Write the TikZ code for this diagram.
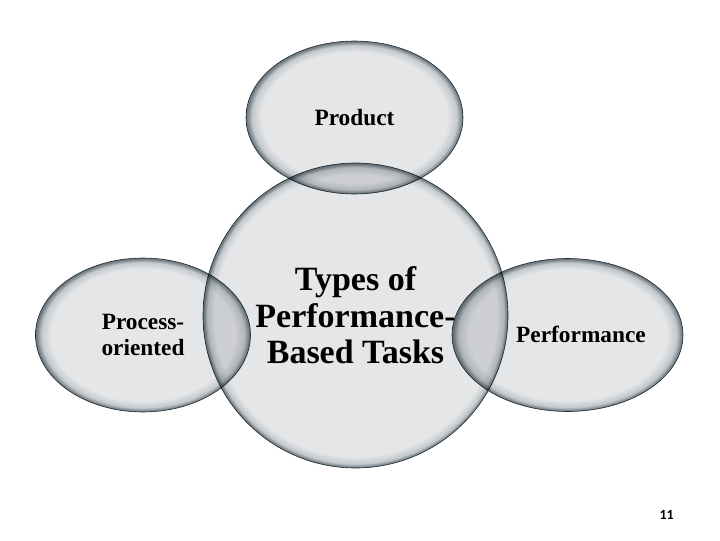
\documentclass[tikz,border=0pt]{standalone}
\usepackage{fontspec}
\setmainfont{Liberation Serif}
\newfontfamily\bubblefont{Liberation Serif}
\newfontfamily\slidefont{Carlito}
\usepackage{tikz}
\usetikzlibrary{shapes.geometric, positioning}
\definecolor{bubblefill}{RGB}{229,230,232}
\definecolor{bubblemid}{RGB}{196,201,204}
\definecolor{bubbleedge}{RGB}{110,122,128}
\definecolor{bubblerim}{RGB}{50,62,70}
% light inside, soft dark glow at the border
\pgfdeclareradialshading{rimsmall}{\pgfpoint{0bp}{0bp}}{color(0bp)=(bubblefill); color(21.4bp)=(bubblefill); color(23.6bp)=(bubblemid); color(24.8bp)=(bubbleedge); color(25bp)=(bubbleedge); color(50bp)=(bubbleedge)}
\pgfdeclareradialshading{rimbig}{\pgfpoint{0bp}{0bp}}{color(0bp)=(bubblefill); color(23.1bp)=(bubblefill); color(24.3bp)=(bubblemid); color(24.9bp)=(bubbleedge); color(25bp)=(bubbleedge); color(50bp)=(bubbleedge)}
\tikzset{
  bubble/.style={ellipse, draw=bubblerim, line width=0.45pt, shading=rimsmall, inner sep=0pt,
                 font=\bubblefont\bfseries\fontsize{17.5}{19.5}\selectfont, align=center},
  hub/.style={circle, draw=bubblerim, line width=0.45pt, shading=rimbig, inner sep=0pt,
              minimum size=228.75pt, font=\bubblefont\bfseries\fontsize{25.5}{27.5}\selectfont, align=center},
  bubbletext/.style={font=\bubblefont\bfseries\fontsize{17.5}{19.5}\selectfont, align=center, inner sep=0pt},
  pagenum/.style={font=\slidefont\bfseries\fontsize{10.5}{12}\selectfont, inner sep=0pt}
}

\begin{document}
\begin{tikzpicture}[x=0.75pt, y=0.75pt]
  \useasboundingbox (0,0) rectangle (720,540);
  \begin{scope}[blend mode=multiply]
    % the centre and its three kinds
    \node[hub] (types) at (355.5,224.5) {Types of\\Performance-\\Based Tasks};
    \node[bubble, minimum width=162.75pt, minimum height=114.75pt] (product) at (354.5,422.5) {Product};
    \node[bubble, minimum width=161.25pt, minimum height=115.5pt] (process) at (143,205) {Process-\\oriented};
    \node[bubble, minimum width=173.25pt, minimum height=114.75pt] (perf) at (567.5,205) {};
  \end{scope}
  \node[bubbletext] (perftext) at (581,206) {Performance};

  \node[pagenum] (page) at (666.7,25.5) {11};
\end{tikzpicture}
\end{document}
